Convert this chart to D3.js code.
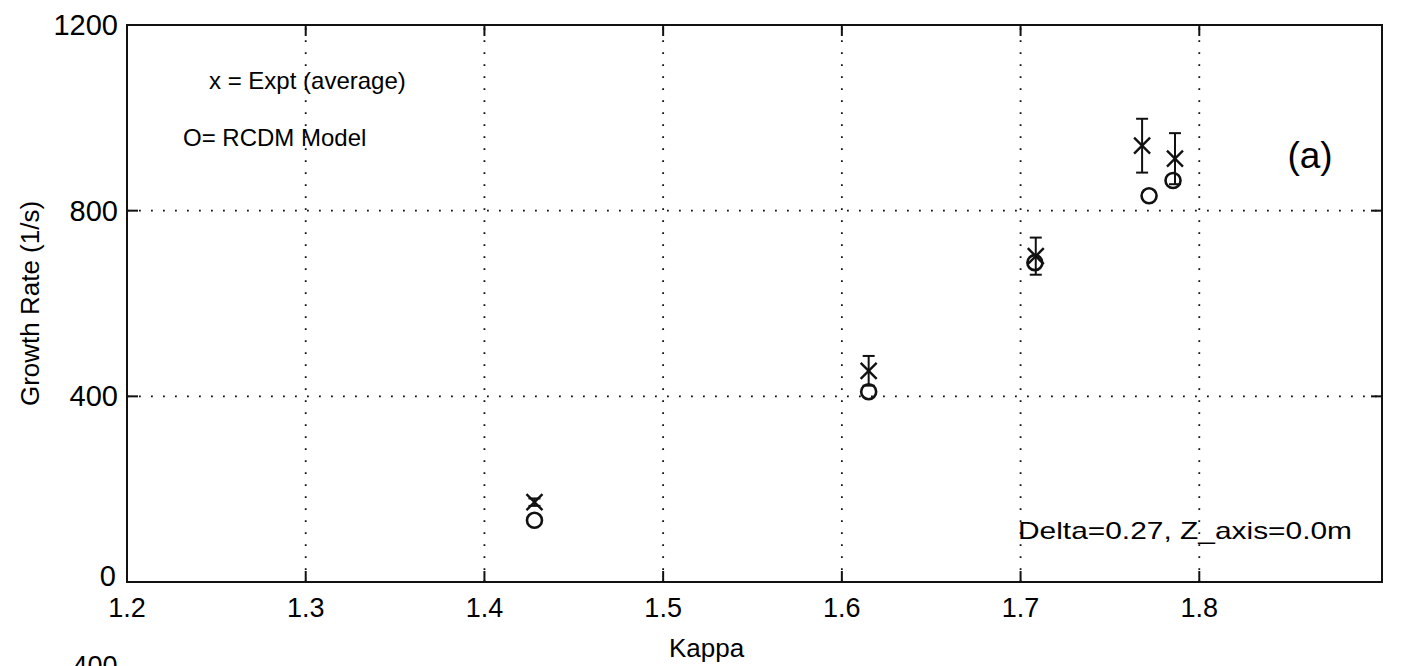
<!DOCTYPE html>
<html>
<head>
<meta charset="utf-8">
<script src="https://cdn.jsdelivr.net/npm/d3@7"></script>
<style>
  body { margin: 0; background: #fff; }
  svg { display: block; }
  text { font-family: "Liberation Sans", Arial, Helvetica, sans-serif; fill: #000; }
</style>
</head>
<body>
<div class="chart-area"></div>
<script>
// experiment (x markers with error bars)
const exptKappa = [1.428, 1.615, 1.7085, 1.768, 1.7864];
const exptRate  = [172, 455, 702, 940, 912];
const exptErr   = [8, 32, 40, 58, 55];
// RCDM model (circles)
const modelKappa = [1.428, 1.615, 1.708, 1.7719, 1.7853];
const modelRate  = [133, 410, 688, 832, 865];

const xTicks = [1.2, 1.3, 1.4, 1.5, 1.6, 1.7, 1.8];
const yTicks = [0, 400, 800, 1200];

const width = 1401, height = 666;
const margin = { top: 25, right: 19, bottom: 84, left: 127 };

const svg = d3.select('.chart-area').append('svg')
    .attr('width', width).attr('height', height);

const x = d3.scaleLinear()
    .domain([1.2, 1.9])
    .range([margin.left, width - margin.right - 4]);

const y = d3.scaleLinear()
    .domain([0, 1200])
    .range([height - margin.bottom, margin.top]);

const x0 = x.range()[0], x1 = width - margin.right;
const y0 = y.range()[0], y1 = y.range()[1];

// dotted grid
const grid = svg.append('g')
    .attr('stroke', '#111')
    .attr('stroke-width', 1.8)
    .attr('stroke-dasharray', '1.8 10.2');

grid.selectAll('.vg')
    .data(xTicks.slice(1))
    .join('line')
    .attr('x1', d => x(d)).attr('x2', d => x(d))
    .attr('y1', y0).attr('y2', y1);

grid.selectAll('.hg')
    .data(yTicks.slice(1, -1))
    .join('line')
    .attr('x1', x0).attr('x2', x1)
    .attr('y1', d => y(d)).attr('y2', d => y(d));

// frame
svg.append('rect')
    .attr('x', x0).attr('y', y1)
    .attr('width', x1 - x0).attr('height', y0 - y1)
    .attr('fill', 'none')
    .attr('stroke', '#111')
    .attr('stroke-width', 2);

// inward ticks (bottom, top, left, right)
const ticks = svg.append('g').attr('stroke', '#111').attr('stroke-width', 2);
const tl = 11;
ticks.selectAll('.tb').data(xTicks).join('line')
    .attr('x1', d => x(d)).attr('x2', d => x(d))
    .attr('y1', y0).attr('y2', y0 - tl);
ticks.selectAll('.tt').data(xTicks).join('line')
    .attr('x1', d => x(d)).attr('x2', d => x(d))
    .attr('y1', y1).attr('y2', y1 + tl);
ticks.selectAll('.tlft').data(yTicks).join('line')
    .attr('x1', x0).attr('x2', x0 + tl)
    .attr('y1', d => y(d)).attr('y2', d => y(d));
ticks.selectAll('.trt').data(yTicks).join('line')
    .attr('x1', x1).attr('x2', x1 - tl)
    .attr('y1', d => y(d)).attr('y2', d => y(d));

// tick labels
svg.append('g').selectAll('text')
    .data(xTicks)
    .join('text')
    .attr('x', d => x(d))
    .attr('y', y0 + 35)
    .attr('text-anchor', 'middle')
    .attr('font-size', 27)
    .text(d => d3.format('.1f')(d));

svg.append('g').selectAll('text')
    .data(yTicks)
    .join('text')
    .attr('x', d => d === 0 ? x0 - 11 : x0 - 9)
    .attr('y', d => d === 0 ? y(d) + 4 : y(d) + 10)
    .attr('text-anchor', 'end')
    .attr('font-size', 29)
    .text(d => d);

// axis titles
svg.append('text')
    .attr('x', (x0 + x1) / 2 - 48)
    .attr('y', 657)
    .attr('text-anchor', 'middle')
    .attr('font-size', 26)
    .text('Kappa');

svg.append('text')
    .attr('transform', `translate(39,${(y0 + y1) / 2}) rotate(-90)`)
    .attr('text-anchor', 'middle')
    .attr('font-size', 26)
    .text('Growth Rate (1/s)');

// cut-off label of the next panel
svg.append('text')
    .attr('x', 95).attr('y', 675)
    .attr('text-anchor', 'middle')
    .attr('font-size', 27)
    .text('400');

// legend and notes
svg.append('text').attr('x', 209).attr('y', 89).attr('font-size', 24)
    .text('x = Expt (average)');
svg.append('text').attr('x', 183).attr('y', 146).attr('font-size', 24)
    .text('O= RCDM Model');
svg.append('text').attr('x', 1310).attr('y', 168).attr('font-size', 37)
    .attr('text-anchor', 'middle')
    .text('(a)');
svg.append('text').attr('x', 1018).attr('y', 539).attr('font-size', 24)
    .attr('textLength', 334).attr('lengthAdjust', 'spacingAndGlyphs')
    .text('Delta=0.27, Z_axis=0.0m');

// error bars
const expt = exptKappa.map((k, i) => ({ k, v: exptRate[i], e: exptErr[i] }));
const eb = svg.append('g').attr('stroke', '#111').attr('stroke-width', 2)
    .selectAll('g').data(expt).join('g')
    .attr('transform', d => `translate(${x(d.k)},0)`);
eb.append('line')
    .attr('y1', d => y(d.v - d.e)).attr('y2', d => y(d.v + d.e));
eb.append('line').attr('x1', -6).attr('x2', 6)
    .attr('y1', d => y(d.v + d.e)).attr('y2', d => y(d.v + d.e));
eb.append('line').attr('x1', -6).attr('x2', 6)
    .attr('y1', d => y(d.v - d.e)).attr('y2', d => y(d.v - d.e));

// x markers
const s = 8;
const xm = svg.append('g').attr('stroke', '#111').attr('stroke-width', 2.4)
    .selectAll('g').data(expt).join('g')
    .attr('transform', d => `translate(${x(d.k)},${y(d.v)})`);
xm.append('line').attr('x1', -s).attr('y1', -s).attr('x2', s).attr('y2', s);
xm.append('line').attr('x1', -s).attr('y1', s).attr('x2', s).attr('y2', -s);

// model circles
svg.append('g').selectAll('circle')
    .data(modelKappa.map((k, i) => ({ k, v: modelRate[i] })))
    .join('circle')
    .attr('cx', d => x(d.k))
    .attr('cy', d => y(d.v))
    .attr('r', 7.5)
    .attr('fill', 'none')
    .attr('stroke', '#111')
    .attr('stroke-width', 2.6);
</script>
</body>
</html>
